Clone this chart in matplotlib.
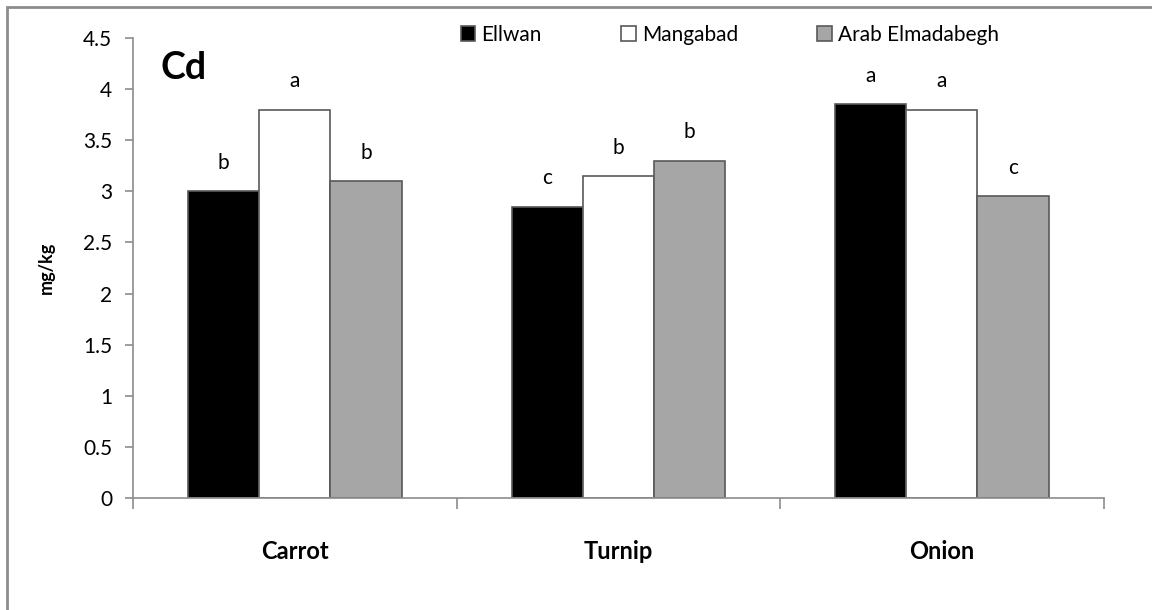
import numpy as np
import matplotlib
matplotlib.use("Agg")
from matplotlib import pyplot as plt
from matplotlib import patches

plt.rcParams['font.family'] = ['Lato', 'DejaVu Sans']

crops = ['Carrot', 'Turnip', 'Onion']
sites = ['Ellwan', 'Mangabad', 'Arab Elmadabegh']
ellwan = [3.0, 2.85, 3.85]
mangabad = [3.8, 3.15, 3.8]
arab = [3.1, 3.3, 2.95]
letters_ellwan = ['b', 'c', 'a']
letters_mangabad = ['a', 'b', 'a']
letters_arab = ['b', 'b', 'c']

colors = ['black', 'white', '#a6a6a6']
edge = '#595959'

fig = plt.figure(figsize=(11.52, 6.10), dpi=100)
ax = fig.add_axes([0.1155, 0.1836, 0.8425, 0.7541])

# outer frame like the spreadsheet chart area
fig.patches.append(patches.Rectangle((0.006, -0.01), 1.2, 0.999, transform=fig.transFigure,
                                     fill=False, edgecolor='#8c8c8c', lw=2.0))

x = np.arange(len(crops))
w = 0.22
series = [ellwan, mangabad, arab]
letters = [letters_ellwan, letters_mangabad, letters_arab]
for i, (vals, lab) in enumerate(zip(series, letters)):
    pos = x + (i - 1) * w
    ax.bar(pos, vals, w, color=colors[i], edgecolor=edge, lw=1.2, label=sites[i])
    for p, v, t in zip(pos, vals, lab):
        ax.text(p, v + 0.18, t, ha='center', va='bottom', fontsize=15)

ax.set_xlim(-0.5, 2.5)
ax.set_ylim(0, 4.5)
ax.set_yticks(np.arange(0, 4.51, 0.5))
ax.set_yticklabels(['0', '0.5', '1', '1.5', '2', '2.5', '3', '3.5', '4', '4.5'], fontsize=15)
ax.set_xticks([-0.5, 0.5, 1.5, 2.5])
ax.set_xticklabels([])
ax.set_xticks(x, minor=True)
ax.set_xticklabels(crops, minor=True, fontsize=17, fontweight='bold')
ax.tick_params(axis='x', which='minor', length=0, pad=30)
ax.tick_params(axis='x', which='major', length=8, color='#8c8c8c', width=1.2)
ax.tick_params(axis='y', length=6, color='#8c8c8c', width=1.2, pad=9)

for s in ['top', 'right']:
    ax.spines[s].set_visible(False)
for s in ['left', 'bottom']:
    ax.spines[s].set_color('#8c8c8c')
    ax.spines[s].set_linewidth(1.2)

ax.set_ylabel('mg/kg', fontsize=13, fontweight='bold', labelpad=20)
ax.text(0.028, 0.935, 'Cd', transform=ax.transAxes, fontsize=27, fontweight='bold', va='center')

ax.legend(loc='upper center', bbox_to_anchor=(0.615, 1.07), ncol=3, frameon=False,
          fontsize=15, handlelength=0.7, handleheight=0.7, handletextpad=0.3, columnspacing=3.8)

fig.savefig('out.png', dpi=100)
